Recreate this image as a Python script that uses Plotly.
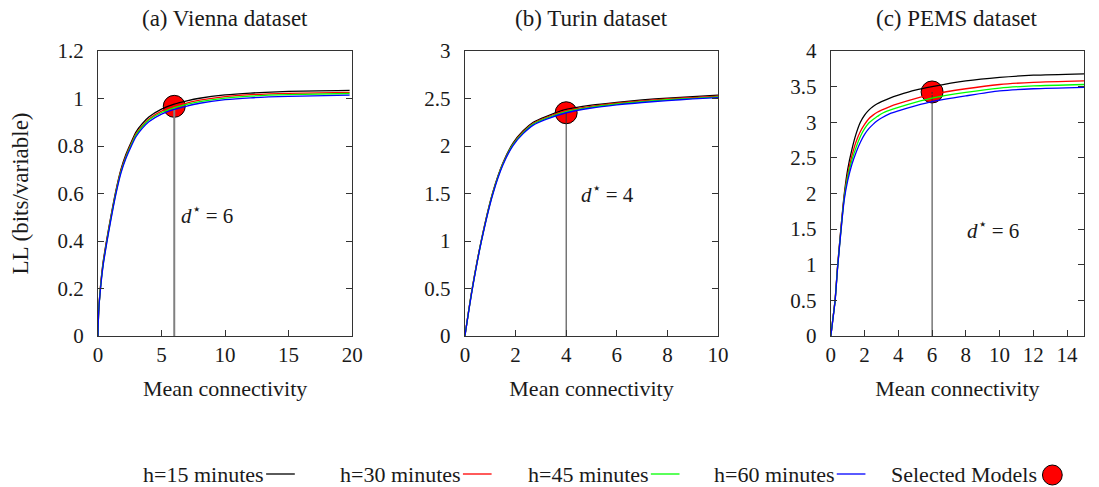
import plotly.graph_objects as go

# ---------------- data ----------------
series_names = ["h=15 minutes", "h=30 minutes", "h=45 minutes", "h=60 minutes"]
series_colors = ["#000000", "#ff0000", "#00ff00", "#0000ff"]

# (a) Vienna
vienna_x = [0, 0.05, 0.2, 0.4, 0.7, 1.0, 1.4, 1.8, 2.2, 2.6, 3, 3.5, 4, 5, 6, 7, 8, 10, 12, 15, 19.8]
vienna_h15 = [0, 0.10, 0.21, 0.31, 0.41, 0.50, 0.61, 0.70, 0.765, 0.815, 0.86, 0.895, 0.922, 0.955, 0.976, 0.990, 1.001, 1.015, 1.023, 1.030, 1.034]
vienna_h30 = [0, 0.10, 0.21, 0.305, 0.405, 0.495, 0.605, 0.695, 0.758, 0.808, 0.852, 0.887, 0.914, 0.947, 0.967, 0.981, 0.993, 1.008, 1.016, 1.022, 1.026]
vienna_h45 = [0, 0.10, 0.205, 0.30, 0.40, 0.49, 0.60, 0.69, 0.753, 0.803, 0.847, 0.882, 0.909, 0.941, 0.961, 0.975, 0.987, 1.002, 1.010, 1.016, 1.021]
vienna_h60 = [0, 0.10, 0.20, 0.295, 0.395, 0.485, 0.595, 0.685, 0.748, 0.797, 0.840, 0.875, 0.902, 0.934, 0.954, 0.968, 0.980, 0.995, 1.003, 1.009, 1.014]

# (b) Turin
turin_x = [0, 0.15, 0.3, 0.65, 1.1, 1.5, 1.9, 2.3, 2.7, 3.2, 4, 5, 6, 7, 8, 9, 10]
turin_h15 = [0, 0.27, 0.52, 1.01, 1.51, 1.82, 2.03, 2.16, 2.25, 2.31, 2.385, 2.43, 2.46, 2.485, 2.505, 2.52, 2.535]
turin_h30 = [0, 0.27, 0.515, 1.005, 1.505, 1.815, 2.02, 2.15, 2.24, 2.30, 2.372, 2.418, 2.45, 2.475, 2.495, 2.51, 2.525]
turin_h45 = [0, 0.265, 0.51, 1.0, 1.50, 1.81, 2.015, 2.14, 2.23, 2.29, 2.362, 2.41, 2.442, 2.467, 2.487, 2.502, 2.517]
turin_h60 = [0, 0.26, 0.505, 0.995, 1.49, 1.80, 2.005, 2.13, 2.22, 2.28, 2.35, 2.40, 2.433, 2.458, 2.478, 2.495, 2.51]

# (c) PEMS
pems_x = [0, 0.1, 0.25, 0.4, 0.6, 0.8, 1.0, 1.25, 1.5, 1.75, 2, 2.25, 2.5, 2.75, 3, 3.5, 4, 5, 6, 8, 10, 12, 15]
pems_h15 = [0, 0.2, 0.5, 0.98, 1.52, 2.0, 2.34, 2.62, 2.84, 3.0, 3.1, 3.17, 3.22, 3.26, 3.29, 3.34, 3.38, 3.45, 3.50, 3.58, 3.63, 3.66, 3.68]
pems_h30 = [0, 0.2, 0.5, 0.97, 1.5, 1.97, 2.27, 2.53, 2.73, 2.87, 2.97, 3.05, 3.10, 3.14, 3.17, 3.22, 3.26, 3.33, 3.39, 3.47, 3.53, 3.56, 3.58]
pems_h45 = [0, 0.2, 0.49, 0.96, 1.48, 1.95, 2.23, 2.47, 2.65, 2.80, 2.91, 2.99, 3.04, 3.08, 3.12, 3.17, 3.21, 3.28, 3.34, 3.42, 3.48, 3.51, 3.53]
pems_h60 = [0, 0.19, 0.48, 0.95, 1.47, 1.92, 2.18, 2.41, 2.58, 2.72, 2.83, 2.91, 2.97, 3.02, 3.06, 3.12, 3.16, 3.23, 3.29, 3.37, 3.44, 3.47, 3.49]

# selected models (d*, LL)
selected_d = [6, 4, 6]
selected_ll = [0.967, 2.35, 3.425]

panel_titles = ["(a) Vienna dataset", "(b) Turin dataset", "(c) PEMS dataset"]
x_ranges = [[0, 20], [0, 10], [0, 15]]
x_dticks = [5, 2, 2]
y_ranges = [[0, 1.2], [0, 3], [0, 4]]
y_dticks = [0.2, 0.5, 0.5]
annot_pos = [(6.4, 0.51), (4.5, 1.5), (7.95, 1.5)]
vline_colors = ["#808080", "#333333", "#333333"]
vline_widths = [2, 1, 1]

panels = [
    (vienna_x, [vienna_h15, vienna_h30, vienna_h45, vienna_h60]),
    (turin_x, [turin_h15, turin_h30, turin_h45, turin_h60]),
    (pems_x, [pems_h15, pems_h30, pems_h45, pems_h60]),
]

# ---------------- layout geometry ----------------
W, H = 1099, 487
ML, MR, MT, MB = 98, 4, 51, 151
PW = W - ML - MR
PH = H - MT - MB
panel_px = [(98, 355), (469, 725), (839, 1095)]

def px_to_paper_x(px):
    return (px - ML) / PW

def px_to_paper_y(py):
    return (H - MB - py) / PH

FONT = "Liberation Serif, Times New Roman, DejaVu Serif, serif"
TXT = "#1a1a1a"

fig = go.Figure()

for i, (xs, ys_list) in enumerate(panels):
    xa = "x" if i == 0 else f"x{i+1}"
    ya = "y" if i == 0 else f"y{i+1}"
    fig.add_trace(go.Scatter(
        x=[selected_d[i]], y=[selected_ll[i]], mode="markers",
        marker=dict(size=22, color="#ff0000", line=dict(color="#000000", width=1)),
        xaxis=xa, yaxis=ya, showlegend=False, hoverinfo="skip"))
    fig.add_trace(go.Scatter(
        x=[selected_d[i], selected_d[i]], y=[0, selected_ll[i]], mode="lines",
        line=dict(color=vline_colors[i], width=vline_widths[i]),
        xaxis=xa, yaxis=ya, showlegend=False, hoverinfo="skip"))
    for name, color, ys in zip(series_names, series_colors, ys_list):
        fig.add_trace(go.Scatter(
            x=xs, y=ys, mode="lines", name=name,
            line=dict(color=color, width=1.3, shape="spline", smoothing=0.7),
            xaxis=xa, yaxis=ya, showlegend=False))

axis_common = dict(
    showgrid=False, zeroline=False, showline=True, linecolor="#333333", linewidth=1.3,
    ticks="inside", ticklen=6, tickcolor="#333333", tickwidth=1,
    tickfont=dict(family=FONT, size=21, color=TXT),
)

layout = dict(
    width=W, height=H,
    margin=dict(l=ML, r=MR, t=MT, b=MB),
    plot_bgcolor="white", paper_bgcolor="white",
    font=dict(family=FONT, color=TXT),
    showlegend=False,
)

annotations = []
for i in range(3):
    xk = "xaxis" if i == 0 else f"xaxis{i+1}"
    yk = "yaxis" if i == 0 else f"yaxis{i+1}"
    xr = "x" if i == 0 else f"x{i+1}"
    yr = "y" if i == 0 else f"y{i+1}"
    dom = [px_to_paper_x(panel_px[i][0]), px_to_paper_x(panel_px[i][1])]
    layout[xk] = dict(axis_common, domain=dom, range=x_ranges[i], dtick=x_dticks[i], tick0=0,
                      mirror=True, anchor=yr,
                      title=dict(text="Mean connectivity", font=dict(family=FONT, size=22, color=TXT), standoff=14))
    layout[yk] = dict(axis_common, domain=[0, 1], range=y_ranges[i], dtick=y_dticks[i], tick0=0,
                      mirror="ticks", anchor=xr, ticklabelstandoff=9)
    annotations.append(dict(text=panel_titles[i], xref="paper", yref="paper",
                            x=(dom[0] + dom[1]) / 2, y=px_to_paper_y(18),
                            xanchor="center", yanchor="middle", showarrow=False,
                            font=dict(family=FONT, size=23, color=TXT)))
    annotations.append(dict(text=f"<i>d</i><sup>⋆</sup> = {selected_d[i]}", xref=xr, yref=yr,
                            x=annot_pos[i][0], y=annot_pos[i][1], xanchor="left", yanchor="middle",
                            showarrow=False, font=dict(family=FONT, size=21, color=TXT)))

layout["yaxis"]["title"] = dict(text="LL (bits/variable)", font=dict(family=FONT, size=23, color=TXT), standoff=22)

# custom legend (text followed by sample), as in the reference
legend_y = px_to_paper_y(474)
line_starts = [268, 467, 657, 845]
line_len = 29
shapes = []
for name, color, x0 in zip(series_names, series_colors, line_starts):
    annotations.append(dict(text=name, xref="paper", yref="paper", x=px_to_paper_x(x0), y=legend_y,
                            xanchor="right", yanchor="middle", showarrow=False,
                            font=dict(family=FONT, size=22, color=TXT)))
    shapes.append(dict(type="line", xref="paper", yref="paper",
                       x0=px_to_paper_x(x0), x1=px_to_paper_x(x0 + line_len), y0=legend_y, y1=legend_y,
                       line=dict(color=color, width=1.3)))
annotations.append(dict(text="Selected Models", xref="paper", yref="paper", x=px_to_paper_x(1050), y=legend_y,
                        xanchor="right", yanchor="middle", showarrow=False,
                        font=dict(family=FONT, size=22, color=TXT)))
shapes.append(dict(type="circle", xref="paper", yref="paper",
                   x0=px_to_paper_x(1053), x1=px_to_paper_x(1073),
                   y0=px_to_paper_y(485), y1=px_to_paper_y(465),
                   fillcolor="#ff0000", line=dict(color="#000000", width=1)))

layout["annotations"] = annotations
layout["shapes"] = shapes
fig.update_layout(**layout)

fig.write_html("out.html")
